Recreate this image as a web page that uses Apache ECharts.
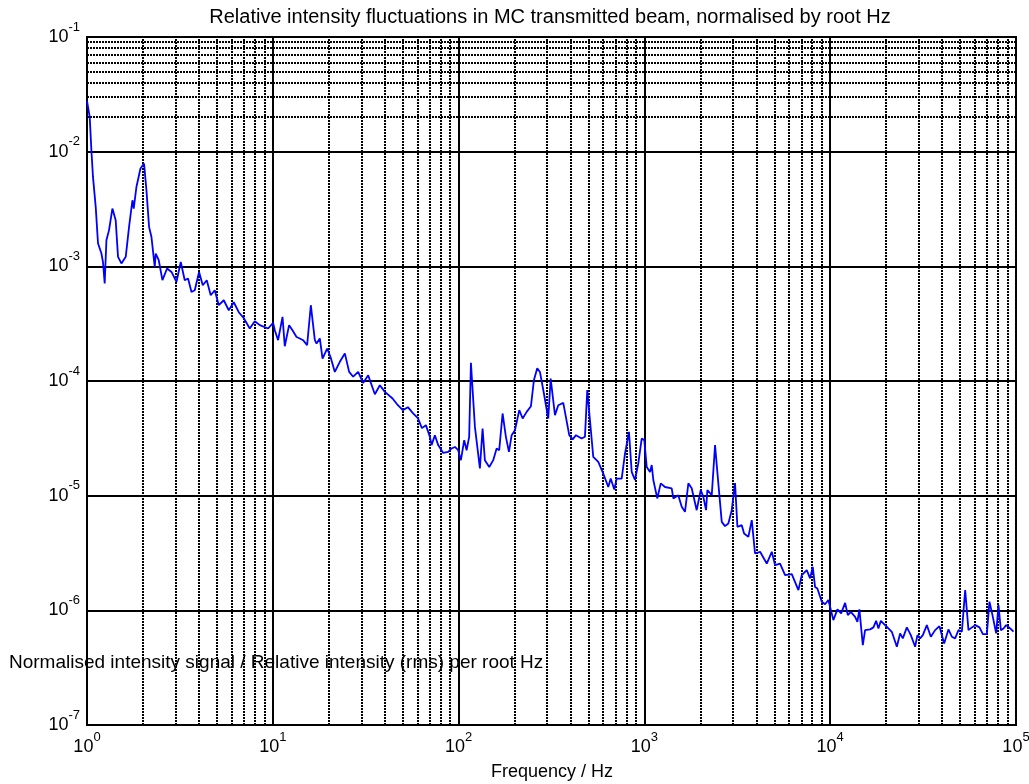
<!DOCTYPE html>
<html>
<head>
<meta charset="utf-8">
<title>Relative intensity fluctuations in MC transmitted beam</title>
<script src="https://cdn.jsdelivr.net/npm/echarts@6/dist/echarts.min.js"></script>
<style>
  html, body { margin: 0; padding: 0; background: #ffffff; }
  #chart { width: 1029px; height: 784px; }
</style>
</head>
<body>
<div id="chart"></div>
<script>
// Spectrum of the relative intensity noise (per root Hz) against frequency.
const freqHz = [
  1.00, 1.034, 1.056, 1.077, 1.114, 1.146, 1.195, 1.219, 1.245, 1.272,
  1.314, 1.370, 1.427, 1.469, 1.532, 1.616, 1.684, 1.756, 1.784, 1.845,
  1.940, 2.028, 2.089, 2.158, 2.223, 2.315, 2.344, 2.433, 2.547, 2.697,
  2.849, 3.030, 3.196, 3.358, 3.499, 3.650, 3.802, 4.010, 4.198, 4.412,
  4.634, 4.872, 5.120, 5.447, 5.794, 6.166, 6.560, 6.981, 7.518, 8.000,
  8.511, 9.434, 9.634, 10.04, 10.25, 10.68, 11.28, 11.60, 12.24, 12.76,
  13.42, 13.98, 14.56, 15.30, 16.02, 16.84, 17.20, 17.91, 18.52, 19.61,
  20.45, 21.57, 22.95, 24.42, 25.76, 27.07, 28.80, 30.64, 32.61, 35.43,
  37.69, 40.10, 44.12, 47.11, 50.12, 53.33, 56.75, 60.37, 63.46, 66.67,
  70.05, 71.55, 74.53, 77.65, 82.61, 87.90, 91.68, 95.52, 99.49, 102.9,
  107.2, 110.4, 114.0, 116.5, 122.4, 130.2, 134.6, 138.5, 146.2, 153.6,
  160.2, 165.4, 172.5, 179.7, 186.6, 193.0, 201.0, 212.1, 221.2, 232.4,
  245.1, 254.4, 265.0, 274.0, 287.9, 303.7, 313.0, 330.1, 343.9, 365.9,
  373.6, 394.0, 411.1, 428.3, 459.6, 478.6, 492.6, 509.3, 530.6, 564.7,
  600.6, 639.2, 658.5, 688.5, 709.3, 754.6, 786.2, 803.0, 826.0, 854.3,
  889.9, 927.1, 967.0, 998.6, 1029, 1072, 1095, 1117, 1173, 1224,
  1291, 1403, 1431, 1522, 1588, 1654, 1724, 1797, 1912, 2010,
  2076, 2147, 2182, 2304, 2400, 2500, 2608, 2716, 2830, 2952,
  3075, 3166, 3342, 3440, 3627, 3783, 3940, 4193, 4556, 4848,
  5050, 5373, 5717, 6213, 6743, 7031, 7478, 7793, 8056, 8288,
  8531, 9010, 9387, 9779, 10400, 10940, 11450, 12030, 12440, 12910,
  13620, 14010, 14360, 14980, 15410, 16400, 17090, 17670, 18180, 18730,
  19750, 20570, 21460, 22840, 23780, 24600, 25850, 27160, 28650, 29480,
  30480, 31520, 33120, 34800, 36710, 38730, 41050, 43290, 45150, 47040,
  49010, 51120, 53270, 55480, 57870, 60290, 63600, 66320, 69680, 71970,
  74700, 78220, 80480, 82900, 85640, 88550, 93050, 96940
];

const intensity = [
  2.77e-2, 2.01e-2, 1.03e-2, 6.02e-3, 3.30e-3, 1.59e-3, 1.30e-3, 1.09e-3, 7.08e-4, 1.69e-3,
  2.07e-3, 3.19e-3, 2.52e-3, 1.21e-3, 1.06e-3, 1.21e-3, 2.21e-3, 3.77e-3, 3.19e-3, 4.92e-3,
  7.13e-3, 7.87e-3, 4.61e-3, 2.21e-3, 1.80e-3, 9.88e-4, 1.29e-3, 1.13e-3, 7.57e-4, 9.57e-4,
  8.94e-4, 7.31e-4, 1.09e-3, 7.57e-4, 7.83e-4, 5.98e-4, 6.19e-4, 8.94e-4, 6.84e-4, 7.57e-4,
  5.60e-4, 6.19e-4, 4.58e-4, 5.06e-4, 4.14e-4, 4.86e-4, 3.98e-4, 3.53e-4, 2.87e-4, 3.32e-4,
  3.07e-4, 2.87e-4, 2.77e-4, 3.21e-4, 2.77e-4, 2.27e-4, 3.62e-4, 2.01e-4, 3.07e-4, 2.77e-4,
  2.42e-4, 2.35e-4, 2.27e-4, 2.05e-4, 4.58e-4, 2.27e-4, 2.12e-4, 2.35e-4, 1.57e-4, 1.92e-4,
  1.62e-4, 1.20e-4, 1.47e-4, 1.74e-4, 1.20e-4, 1.09e-4, 1.20e-4, 9.63e-5, 1.12e-4, 7.67e-5,
  9.19e-5, 8.04e-5, 7.04e-5, 6.15e-5, 5.57e-5, 5.91e-5, 5.24e-5, 4.74e-5, 3.88e-5, 4.12e-5,
  3.26e-5, 2.76e-5, 3.37e-5, 2.76e-5, 2.36e-5, 2.41e-5, 2.58e-5, 2.66e-5, 2.49e-5, 2.04e-5,
  3.05e-5, 2.49e-5, 3.26e-5, 1.44e-4, 3.98e-5, 1.73e-5, 3.85e-5, 2.04e-5, 1.78e-5, 2.04e-5,
  2.58e-5, 2.49e-5, 5.21e-5, 3.26e-5, 2.41e-5, 3.37e-5, 3.72e-5, 5.57e-5, 4.71e-5, 5.38e-5,
  6.03e-5, 1.02e-4, 1.29e-4, 1.20e-4, 7.78e-5, 4.71e-5, 1.05e-4, 5.04e-5, 6.15e-5, 6.44e-5,
  6.36e-5, 3.37e-5, 3.10e-5, 3.37e-5, 3.15e-5, 3.26e-5, 8.32e-5, 4.55e-5, 2.18e-5, 1.97e-5,
  1.56e-5, 1.19e-5, 1.41e-5, 1.13e-5, 1.41e-5, 1.41e-5, 2.33e-5, 2.41e-5, 3.60e-5, 1.61e-5,
  1.37e-5, 1.91e-5, 3.15e-5, 3.05e-5, 1.78e-5, 1.61e-5, 1.85e-5, 1.37e-5, 9.46e-6, 1.28e-5,
  1.19e-5, 1.16e-5, 9.46e-6, 1.01e-5, 7.99e-6, 7.23e-6, 1.28e-5, 1.16e-5, 7.47e-6, 1.12e-5,
  9.76e-6, 7.47e-6, 1.12e-5, 1.01e-5, 2.76e-5, 1.28e-5, 5.91e-6, 5.42e-6, 5.72e-6, 7.47e-6,
  1.29e-5, 5.35e-6, 5.53e-6, 4.68e-6, 4.37e-6, 6.11e-6, 3.13e-6, 3.24e-6, 2.56e-6, 3.24e-6,
  2.48e-6, 2.56e-6, 2.03e-6, 2.07e-6, 1.50e-6, 2.03e-6, 2.24e-6, 1.90e-6, 2.39e-6, 1.60e-6,
  1.55e-6, 1.19e-6, 1.13e-6, 1.23e-6, 8.21e-7, 1.02e-6, 9.40e-7, 1.16e-6, 9.08e-7, 9.70e-7,
  8.78e-7, 7.94e-7, 1.02e-6, 4.97e-7, 6.72e-7, 6.82e-7, 7.10e-7, 8.10e-7, 6.95e-7, 8.10e-7,
  7.43e-7, 6.95e-7, 6.50e-7, 4.81e-7, 6.29e-7, 5.69e-7, 7.10e-7, 6.08e-7, 4.81e-7, 6.08e-7,
  5.69e-7, 6.08e-7, 7.43e-7, 5.89e-7, 6.72e-7, 7.28e-7, 5.14e-7, 6.82e-7, 5.89e-7, 5.69e-7,
  6.72e-7, 6.50e-7, 1.50e-6, 6.72e-7, 7.10e-7, 7.43e-7, 7.10e-7, 6.20e-7, 6.20e-7, 1.19e-6,
  9.08e-7, 6.29e-7, 1.11e-6, 6.72e-7, 6.95e-7, 7.43e-7, 6.95e-7, 6.52e-7
];

// Axis ranges (decades) and the multipliers used for the minor grid
const xDecades = [1, 10, 100, 1000, 10000, 100000];
const yDecades = [1e-7, 1e-6, 1e-5, 1e-4, 1e-3, 1e-2, 1e-1];
const minorSteps = [2, 3, 4, 5, 6, 7, 8, 9];

const titleText = 'Relative intensity fluctuations in MC transmitted beam, normalised by root Hz';
const xLabelText = 'Frequency / Hz';
const yLabelText = 'Normalised intensity signal / Relative intensity (rms) per root Hz';

const FONT = '"Liberation Sans", Arial, Helvetica, sans-serif';

function minorValues(decades) {
  const out = [];
  for (let i = 0; i < decades.length - 1; i++) {
    minorSteps.forEach(m => out.push(m * decades[i]));
  }
  return out;
}

const minorX = minorValues(xDecades).map(v => ({ xAxis: v }));
const minorY = minorValues(yDecades).map(v => ({ yAxis: v }));

// "10" with the exponent as a raised, smaller run of text
function powerLabel(value) {
  const exp = Math.round(Math.log10(value));
  return '{b|10}{s|' + exp + '}';
}

const labelRich = {
  b: { fontSize: 18, fontFamily: FONT, color: '#000' },
  s: { fontSize: 13, fontFamily: FONT, color: '#000', padding: [0, 0, 20, 0] }
};

const blackLine = { color: '#000', width: 2 };

const chart = echarts.init(document.getElementById('chart'), null, { renderer: 'canvas' });

chart.setOption({
  animation: false,
  backgroundColor: '#ffffff',
  grid: {
    left: 87, right: 13, top: 37, bottom: 59,
    show: true, borderColor: '#000', borderWidth: 2,
    outerBoundsMode: 'none', containLabel: false
  },
  xAxis: {
    type: 'log', logBase: 10,
    min: xDecades[0], max: xDecades[xDecades.length - 1],
    axisLine: { show: true, lineStyle: blackLine },
    axisTick: { show: true, inside: true, length: 6, lineStyle: { color: '#000' } },
    axisLabel: {
      show: true, margin: 6, formatter: powerLabel, rich: labelRich,
      showMinLabel: true, showMaxLabel: true, hideOverlap: false
    },
    splitLine: { show: true, lineStyle: blackLine },
    minorTick: { show: false }, minorSplitLine: { show: false }
  },
  yAxis: {
    type: 'log', logBase: 10,
    min: yDecades[0], max: yDecades[yDecades.length - 1],
    axisLine: { show: true, lineStyle: blackLine },
    axisTick: { show: true, inside: true, length: 6, lineStyle: { color: '#000' } },
    axisLabel: {
      show: true, margin: 7, formatter: powerLabel, rich: labelRich,
      showMinLabel: true, showMaxLabel: true, hideOverlap: false
    },
    splitLine: { show: true, lineStyle: blackLine },
    minorTick: { show: false }, minorSplitLine: { show: false }
  },
  series: [
    {
      // dotted minor grid at 2..9 of each decade
      name: 'minor grid',
      type: 'line',
      data: [],
      silent: true,
      markLine: {
        silent: true,
        animation: false,
        z: 1,
        symbol: ['none', 'none'],
        label: { show: false },
        emphasis: { disabled: true },
        lineStyle: { color: '#000', width: 2, type: [2, 1] },
        data: minorX.concat(minorY)
      }
    },
    {
      name: 'intensity',
      type: 'line',
      z: 10,
      data: freqHz.map((f, i) => [f, intensity[i]]),
      showSymbol: false,
      symbol: 'none',
      smooth: false,
      lineStyle: { color: '#0000ff', width: 1.8 },
      itemStyle: { color: '#0000ff' },
      emphasis: { disabled: true }
    }
  ],
  graphic: [
    {
      type: 'text', x: 550, y: 17, silent: true,
      style: { text: titleText, fontSize: 20, fontFamily: FONT, fill: '#000', align: 'center', verticalAlign: 'middle' }
    },
    {
      type: 'text', x: 9, y: 663, silent: true,
      style: { text: yLabelText, fontSize: 19, fontFamily: FONT, fill: '#000', align: 'left', verticalAlign: 'middle' }
    },
    {
      type: 'text', x: 552, y: 772, silent: true,
      style: { text: xLabelText, fontSize: 18, fontFamily: FONT, fill: '#000', align: 'center', verticalAlign: 'middle' }
    }
  ]
});
</script>
</body>
</html>
